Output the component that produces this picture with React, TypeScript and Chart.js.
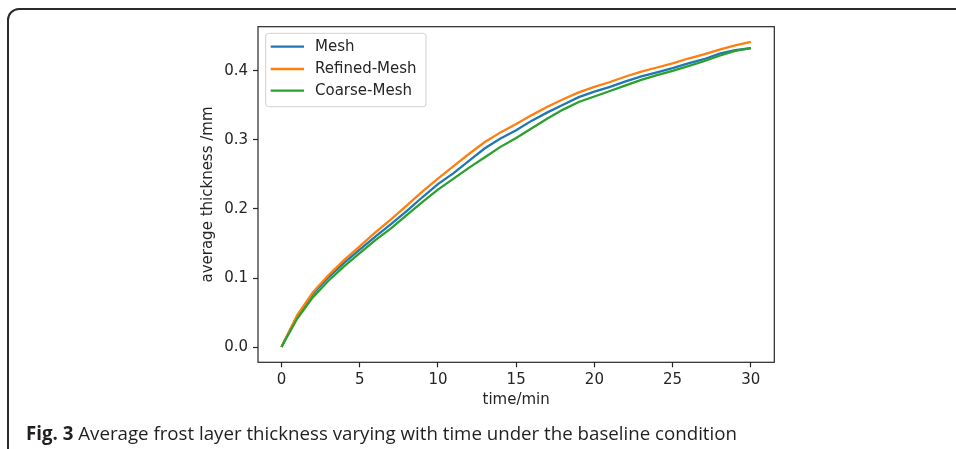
import React, { useEffect, useRef } from "react";
import { Chart, registerables } from "chart.js";

Chart.register(...registerables);

const times = [0, 1, 2, 3, 4, 5, 6, 7, 8, 9, 10, 11, 12, 13, 14, 15, 16, 17, 18, 19, 20, 21, 22, 23, 24, 25, 26, 27, 28, 29, 30];
const meshValues = [0, 0.045, 0.077, 0.101, 0.122, 0.141, 0.16, 0.178, 0.197, 0.217, 0.236, 0.252, 0.27, 0.288, 0.302, 0.314, 0.328, 0.34, 0.351, 0.362, 0.37, 0.377, 0.385, 0.392, 0.398, 0.404, 0.411, 0.417, 0.425, 0.43, 0.433];
const refinedValues = [0, 0.046, 0.079, 0.104, 0.126, 0.146, 0.166, 0.185, 0.205, 0.225, 0.244, 0.262, 0.28, 0.297, 0.311, 0.323, 0.336, 0.348, 0.359, 0.369, 0.377, 0.384, 0.392, 0.399, 0.405, 0.411, 0.418, 0.424, 0.431, 0.437, 0.442];
const coarseValues = [0, 0.041, 0.072, 0.096, 0.117, 0.136, 0.155, 0.172, 0.191, 0.21, 0.228, 0.244, 0.26, 0.275, 0.29, 0.303, 0.317, 0.331, 0.344, 0.355, 0.363, 0.371, 0.379, 0.387, 0.394, 0.4, 0.407, 0.414, 0.422, 0.429, 0.433];

const seriesNames = ["Mesh", "Refined-Mesh", "Coarse-Mesh"];
const seriesColors = ["#1f77b4", "#ff7f0e", "#2ca02c"];
const xTicks = [0, 5, 10, 15, 20, 25, 30];
const yTicks = [0.0, 0.1, 0.2, 0.3, 0.4];
const xLabel = "time/min";
const yLabel = "average thickness /mm";
const captionBold = "Fig. 3";
const captionText = " Average frost layer thickness varying with time under the baseline condition";

const TEXT = "#262626";
const FONT = "DejaVu Sans";

const mplPlugin = {
  id: "mplBoxLegend",
  afterDatasetsDraw(chart: any) {
    const { ctx, chartArea: a } = chart;
    ctx.save();
    ctx.strokeStyle = "#262626";
    ctx.lineWidth = 1.2;
    ctx.strokeRect(a.left, a.top, a.right - a.left, a.bottom - a.top);

    const lx = a.left + 7.7;
    const ly = a.top + 6.6;
    const lw = 160.3;
    const lh = 73.4;
    ctx.beginPath();
    ctx.roundRect(lx, ly, lw, lh, 3);
    ctx.fillStyle = "rgba(255,255,255,0.8)";
    ctx.fill();
    ctx.strokeStyle = "#d0d0d0";
    ctx.lineWidth = 1;
    ctx.stroke();

    const rows = [13.4, 35.7, 57.4];
    ctx.font = `15px "${FONT}"`;
    ctx.textBaseline = "middle";
    ctx.textAlign = "left";
    seriesNames.forEach((name, i) => {
      const y = ly + rows[i];
      ctx.beginPath();
      ctx.moveTo(lx + 5, y);
      ctx.lineTo(lx + 38.3, y);
      ctx.strokeStyle = seriesColors[i];
      ctx.lineWidth = 2.3;
      ctx.stroke();
      ctx.fillStyle = TEXT;
      ctx.fillText(name, lx + 49.3, y + 0.5);
    });
    ctx.restore();
  },
};

export default function App() {
  const canvasRef = useRef<HTMLCanvasElement | null>(null);

  useEffect(() => {
    const canvas = canvasRef.current;
    if (!canvas) return;
    const series = [meshValues, refinedValues, coarseValues];
    const chart = new Chart(canvas, {
      type: "line",
      data: {
        datasets: series.map((vals, i) => ({
          label: seriesNames[i],
          data: times.map((t, j) => ({ x: t, y: vals[j] })),
          borderColor: seriesColors[i],
          backgroundColor: seriesColors[i],
          borderWidth: 2.3,
          pointRadius: 0,
          tension: 0,
          fill: false,
          order: 3 - i,
        })),
      },
      options: {
        animation: false,
        responsive: false,
        devicePixelRatio: 1,
        layout: { padding: { left: 199, top: 26.7, right: 181.7, bottom: 40 } },
        plugins: { legend: { display: false }, tooltip: { enabled: false } },
        scales: {
          x: {
            type: "linear",
            min: -1.5,
            max: 31.5,
            afterBuildTicks: (scale: any) => {
              scale.ticks = xTicks.map((v) => ({ value: v }));
            },
            afterFit: (scale: any) => {
              scale.height = 46.7;
            },
            ticks: {
              font: { family: FONT, size: 15 },
              color: TEXT,
              padding: 4,
              maxRotation: 0,
              autoSkip: false,
              callback: (v: any) => String(v),
            },
            grid: {
              drawOnChartArea: false,
              drawTicks: true,
              tickLength: 5,
              tickColor: "#262626",
              tickWidth: 1.2,
            },
            border: { display: false },
            title: {
              display: true,
              text: xLabel,
              font: { family: FONT, size: 15 },
              color: TEXT,
              padding: { top: 0, bottom: 0 },
            },
          },
          y: {
            type: "linear",
            min: -0.0221,
            max: 0.4641,
            afterBuildTicks: (scale: any) => {
              scale.ticks = yTicks.map((v) => ({ value: v }));
            },
            afterFit: (scale: any) => {
              scale.width = 59;
            },
            ticks: {
              font: { family: FONT, size: 15 },
              color: TEXT,
              padding: 5,
              autoSkip: false,
              callback: (v: any) => Number(v).toFixed(1),
            },
            grid: {
              drawOnChartArea: false,
              drawTicks: true,
              tickLength: 5,
              tickColor: "#262626",
              tickWidth: 1.2,
            },
            border: { display: false },
            title: {
              display: true,
              text: yLabel,
              font: { family: FONT, size: 15 },
              color: TEXT,
              padding: { top: 0, bottom: 0 },
            },
          },
        },
      },
      plugins: [mplPlugin],
    });
    return () => chart.destroy();
  }, []);

  return (
    <div style={{ position: "fixed", left: 0, top: 0, width: 956, height: 449, overflow: "hidden", background: "#fff" }}>
      <div
        style={{
          position: "absolute",
          left: 7,
          top: 8,
          width: 1100,
          height: 1000,
          border: "2px solid #2b2b2b",
          borderRadius: 12,
          boxSizing: "border-box",
        }}
      />
      <canvas ref={canvasRef} width={956} height={449} style={{ position: "absolute", left: 0, top: 0, display: "block" }} />
      <div
        style={{
          position: "absolute",
          left: 26,
          top: 421.7,
          fontFamily: '"Open Sans", sans-serif',
          fontSize: 18.7,
          lineHeight: "22px",
          color: "#231f20",
          whiteSpace: "nowrap",
        }}
      >
        <b>{captionBold}</b>
        {captionText}
      </div>
    </div>
  );
}
